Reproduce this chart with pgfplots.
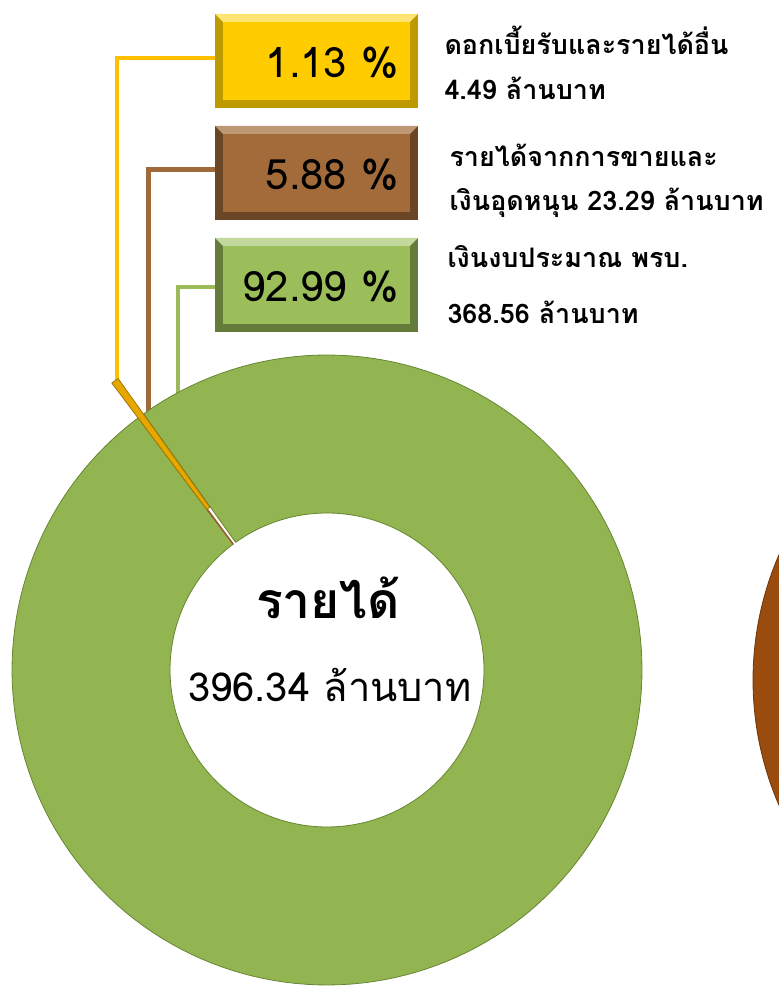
\documentclass[border=0pt]{standalone}
\usepackage{fontspec}
\newfontfamily\thai[Script=Thai]{Loma}
\usepackage{pgfplots}
\pgfplotsset{compat=1.18}

\definecolor{ringgreen}{RGB}{146,181,81}
\definecolor{ringedge}{RGB}{104,134,50}
\definecolor{sliceyellow}{RGB}{230,168,0}
\definecolor{slicebrown}{RGB}{156,90,44}
\definecolor{lineyellow}{RGB}{255,192,0}
\definecolor{linebrown}{RGB}{160,105,58}
\definecolor{linegreen}{RGB}{155,187,89}
\definecolor{boxyellow}{RGB}{255,204,0}
\definecolor{boxbrown}{RGB}{163,107,58}
\definecolor{boxgreen}{RGB}{155,190,90}
\definecolor{otherring}{RGB}{154,76,14}

% ring slice: fill, draw, start angle, end angle, centre x, centre y, inner r, outer r
\newcommand{\ringslice}[8]{%
  \addplot[fill=#1, draw=#2, line width=0.8bp, line join=round, domain=0:361, samples=362]
    ({#5 + (round(x)<180.5 ? #8*cos(#3+(#4-#3)*round(x)/180) : #7*cos(#4-(#4-#3)*(round(x)-181)/180))},
     {#6 + (round(x)<180.5 ? #8*sin(#3+(#4-#3)*round(x)/180) : #7*sin(#4-(#4-#3)*(round(x)-181)/180))}) -- cycle;
}

\begin{document}
\begin{tikzpicture}
\begin{axis}[
    width=779bp, height=988bp,
    scale only axis,
    xmin=0, xmax=779,
    ymin=0, ymax=988,
    hide axis,
    clip=true,
]
% leader lines
\draw[lineyellow, line width=4bp] (axis cs:230,930) -- (axis cs:117,930) -- (axis cs:117,606);
\draw[linebrown, line width=5bp] (axis cs:235,818) -- (axis cs:148,818) -- (axis cs:148,576);
\draw[linegreen, line width=4bp] (axis cs:235,701) -- (axis cs:178,701) -- (axis cs:178,594);

% slices as drawn (angles in degrees)
\ringslice{ringgreen}{ringedge}{126.8}{485.6}{327}{318}{157}{315}    % 92.99 %
\ringslice{slicebrown}{slicebrown}{126.6}{126.8}{327}{318}{157}{315} % 5.88 %
\ringslice{sliceyellow}{sliceyellow!70!black}{125.5}{126.9}{301}{353}{157}{315} % 1.13 %, pulled out

% part of the next chart at the right edge
\ringslice{otherring}{otherring!70!black}{90}{270}{1068}{308}{157}{315}

% boxes
\fill[boxyellow!75!black] (axis cs:215,880) rectangle (axis cs:418,974);
\fill[boxyellow!55!white] (axis cs:215,974) -- (axis cs:418,974) -- (axis cs:410,966) -- (axis cs:223,966) -- cycle;
\fill[boxyellow] (axis cs:223,888) rectangle (axis cs:410,966);

\fill[boxbrown!65!black] (axis cs:215,768) rectangle (axis cs:418,862);
\fill[boxbrown!70!white] (axis cs:215,862) -- (axis cs:418,862) -- (axis cs:410,854) -- (axis cs:223,854) -- cycle;
\fill[boxbrown] (axis cs:223,776) rectangle (axis cs:410,854);

\fill[boxgreen!65!black] (axis cs:215,656) rectangle (axis cs:418,750);
\fill[boxgreen!60!white] (axis cs:215,750) -- (axis cs:418,750) -- (axis cs:410,742) -- (axis cs:223,742) -- cycle;
\fill[boxgreen] (axis cs:223,664) rectangle (axis cs:410,742);

\node[anchor=east, font=\thai\fontsize{42}{42}\selectfont] at (axis cs:402,925) {1.13 \%};
\node[anchor=east, font=\thai\fontsize{42}{42}\selectfont] at (axis cs:402,813) {5.88 \%};
\node[anchor=east, font=\thai\fontsize{42}{42}\selectfont] at (axis cs:402,701) {92.99 \%};

% labels
\node[anchor=west, font=\thai\bfseries\fontsize{27}{27}\selectfont] at (axis cs:441,948) {ดอกเบี้ยรับและรายได้อื่น};
\node[anchor=west, font=\thai\bfseries\fontsize{27}{27}\selectfont] at (axis cs:441,900) {4.49 ล้านบาท};
\node[anchor=west, font=\thai\bfseries\fontsize{27}{27}\selectfont] at (axis cs:446,833) {รายได้จากการขายและ};
\node[anchor=west, font=\thai\bfseries\fontsize{27}{27}\selectfont] at (axis cs:446,785) {เงินอุดหนุน 23.29 ล้านบาท};
\node[anchor=west, font=\thai\bfseries\fontsize{27}{27}\selectfont] at (axis cs:444,731) {เงินงบประมาณ พรบ.};
\node[anchor=west, font=\thai\bfseries\fontsize{27}{27}\selectfont] at (axis cs:444,676) {368.56 ล้านบาท};

% centre
\node[font=\thai\bfseries\fontsize{50}{50}\selectfont] at (axis cs:328,390) {รายได้};
\node[font=\thai\fontsize{40}{40}\selectfont] at (axis cs:330,303) {396.34 ล้านบาท};
\end{axis}
\pgfresetboundingbox
\path[use as bounding box] (current axis.south west) rectangle (current axis.north east);
\end{tikzpicture}
\end{document}
